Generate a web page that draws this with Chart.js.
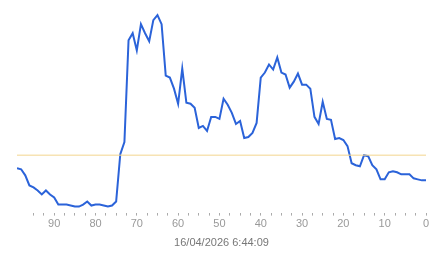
<!DOCTYPE html>
<html>
<head>
<meta charset="utf-8">
<script src="https://cdn.jsdelivr.net/npm/chart.js@4/dist/chart.umd.min.js"></script>
<style>
    html, body { margin: 0; padding: 0; background: #fff; }
    #wrap { width: 443px; height: 258px; }
</style>
</head>
<body>
<div id="wrap"><canvas id="chart"></canvas></div>
<script>
// Data
const ages = [];
for (let i = 99; i >= 0; i--) ages.push(i);

const levels = [
    44, 43, 37, 27, 25, 22, 18, 22, 18, 15,
    8, 8, 8, 7, 6, 6, 8, 11, 7, 8,
    8, 7, 6, 7, 11, 58, 70, 171, 178, 161,
    187, 178, 170, 191, 196, 187, 136, 134, 123, 108,
    143, 109, 108, 104, 84, 86, 81, 95, 95, 93,
    113, 107, 99, 88, 91, 74, 75, 79, 89, 134,
    139, 147, 142, 154, 139, 137, 124, 130, 138, 127,
    127, 123, 95, 88, 110, 93, 92, 73, 74, 72,
    66, 49, 47, 46, 57, 56, 47, 43, 33, 33,
    40, 41, 40, 38, 38, 38, 34, 33, 32, 32,
];

const threshold = 57;
const title = '16/04/2026 6:44:09';

const ctx = document.getElementById('chart').getContext('2d');

// eslint-disable-next-line no-new
new Chart(ctx, {
    type: 'line',
    data: {
        datasets: [
            {
                data: [{ x: 99, y: threshold }, { x: 0, y: threshold }],
                borderColor: '#f3d58e',
                borderWidth: 1,
                pointRadius: 0,
            },
            {
                data: ages.map((a, i) => ({ x: a, y: levels[i] })),
                borderColor: '#2b63d9',
                borderWidth: 2,
                pointRadius: 0,
                tension: 0,
            },
        ],
    },
    options: {
        responsive: true,
        maintainAspectRatio: false,
        animation: false,
        layout: { padding: { left: 17, right: 17, top: 0, bottom: 8 } },
        plugins: {
            legend: { display: false },
            tooltip: { enabled: false },
            title: {
                display: true,
                text: title,
                position: 'bottom',
                color: '#777',
                font: { family: 'Liberation Sans', size: 11, weight: 'normal' },
                padding: { top: 4, bottom: 0 },
            },
        },
        scales: {
            x: {
                type: 'linear',
                reverse: true,
                min: 0,
                max: 99,
                afterBuildTicks: (axis) => {
                    axis.ticks = axis.ticks.filter((t) => t.value % 2.5 === 0);
                },
                ticks: {
                    stepSize: 2.5,
                    autoSkip: false,
                    maxRotation: 0,
                    color: '#999',
                    padding: 2,
                    font: { family: 'Liberation Sans', size: 11 },
                    callback: (v) => (v % 10 === 0 ? String(v) : ''),
                },
                grid: {
                    drawOnChartArea: false,
                    drawTicks: true,
                    tickLength: 3,
                    color: '#aaa',
                },
                border: { display: false },
            },
            y: {
                display: false,
                min: 0,
                max: 211,
            },
        },
    },
});
</script>
</body>
</html>
